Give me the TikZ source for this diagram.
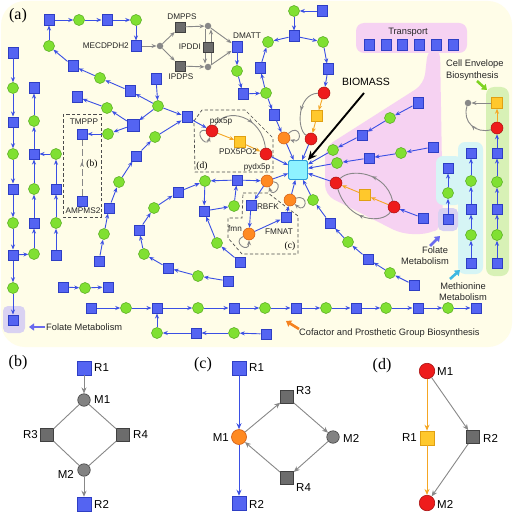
\documentclass[tikz,border=0pt]{standalone}
\usepackage{fontspec}
\setsansfont{Liberation Sans}
\newfontfamily\serifb{Liberation Serif}
\usetikzlibrary{arrows.meta,decorations.markings}
\definecolor{bluef}{HTML}{5464F2}
\definecolor{blued}{HTML}{2E3EC4}
\definecolor{arrb}{HTML}{3A4FE4}
\definecolor{greenf}{HTML}{80E032}
\definecolor{greend}{HTML}{52A81C}
\definecolor{redf}{HTML}{EE1C1C}
\definecolor{redd}{HTML}{A81010}
\definecolor{orangef}{HTML}{FF8A22}
\definecolor{oranged}{HTML}{D05A10}
\definecolor{yellowf}{HTML}{FFC82C}
\definecolor{yellowd}{HTML}{E0A012}
\definecolor{arro}{HTML}{F5A623}
\definecolor{grayf}{HTML}{6C6C6C}
\definecolor{grayd}{HTML}{404040}
\definecolor{grayl}{HTML}{888888}
\definecolor{cyanf}{HTML}{8EF2FF}
\definecolor{cyand}{HTML}{2C9ED8}
\definecolor{creamc}{HTML}{FFFDE8}
\definecolor{pinkc}{HTML}{F6D2F2}
\definecolor{lavc}{HTML}{D9D2F2}
\definecolor{lcyan}{HTML}{D6F5F5}
\definecolor{lgreen}{HTML}{D8F1B6}
\definecolor{ptrblue}{HTML}{6A6AEE}
\definecolor{ptrcyan}{HTML}{3EB8E2}
\definecolor{ptrgreen}{HTML}{7ED321}
\definecolor{ptrorange}{HTML}{F5821F}
\begin{document}
\begin{tikzpicture}[x=1pt,y=-1pt,
  sq/.style={rectangle,draw=blued,fill=bluef,line width=0.5pt,minimum size=10.5pt,inner sep=0pt},
  ci/.style={circle,draw=greend,fill=greenf,line width=0.5pt,minimum size=11pt,inner sep=0pt},
  rc/.style={circle,draw=redd,fill=redf,line width=0.5pt,minimum size=12pt,inner sep=0pt},
  oc/.style={circle,draw=oranged,fill=orangef,line width=0.5pt,minimum size=12pt,inner sep=0pt},
  ysq/.style={rectangle,draw=yellowd,fill=yellowf,line width=0.5pt,minimum size=11pt,inner sep=0pt},
  gsq/.style={rectangle,draw=grayd,fill=grayf,line width=0.5pt,minimum size=10pt,inner sep=0pt},
  gdot/.style={circle,fill=grayl,draw=none,minimum size=6.5pt,inner sep=0pt},
  biobox/.style={rectangle,rounded corners=1.5pt,draw=cyand,fill=cyanf,line width=0.8pt,minimum size=19pt,inner sep=0pt},
  ba/.style={draw=arrb,line width=0.9pt,-{Stealth[length=5pt,width=4pt]}},
  ga/.style={draw=grayl,line width=0.9pt,-{Stealth[length=5pt,width=4pt]}},
  gl/.style={draw=grayl,line width=0.9pt},
  oa/.style={draw=arro,line width=0.9pt,-{Stealth[length=5pt,width=4pt]}},
  gmid/.style={color=grayl,line width=0.9pt,postaction={decorate},
    decoration={markings,mark=at position #1 with {\arrow{Stealth[length=5pt,width=4pt]}}}},
  gmid/.default=0.55,
  lab/.style={font=\sffamily\fontsize{8.2}{9}\selectfont,inner sep=0pt,text=black!85},
  big/.style={font=\sffamily\fontsize{9.3}{11}\selectfont,inner sep=0pt,text=black!85},
  plab/.style={font=\sffamily\fontsize{11.5}{13}\selectfont,inner sep=0pt},
  pan/.style={font=\serifb\fontsize{16}{18}\selectfont,inner sep=0pt},
  dbox/.style={draw=black!70,line width=0.7pt,dash pattern=on 3.2pt off 2.2pt},
  ptr/.style={line width=2.6pt,-{Triangle[length=5pt,width=7pt]}},
  pbs/.style={rectangle,draw=blued,fill=bluef,line width=0.5pt,minimum size=14pt,inner sep=0pt},
  pgs/.style={rectangle,draw=grayd,fill=grayf,line width=0.6pt,minimum size=13pt,inner sep=0pt},
  pgc/.style={circle,draw=grayd,fill=grayf!85,line width=0.6pt,minimum size=12.5pt,inner sep=0pt},
  poc/.style={circle,draw=oranged,fill=orangef,line width=0.6pt,minimum size=15pt,inner sep=0pt},
  prc/.style={circle,draw=redd,fill=redf,line width=0.6pt,minimum size=15.5pt,inner sep=0pt},
  pys/.style={rectangle,draw=yellowd,fill=yellowf,line width=0.6pt,minimum size=14pt,inner sep=0pt},
  pa/.style={line width=0.9pt,-{Stealth[length=6pt,width=5pt]}}
]
\useasboundingbox (0,0) rectangle (513,516);
\fill[white] (0,0) rectangle (513,516);
% ---------- backgrounds ----------
\fill[creamc,rounded corners=24pt] (1,1) rectangle (512,347);
\fill[pinkc,rounded corners=8pt] (356,23) rectangle (467,53);
\fill[pinkc,rounded corners=10pt] (325,147) -- (424,84) -- (428,48) -- (440,48) -- (443,226) -- (430,234) -- (402,234) -- (325,195) -- cycle;
\fill[lavc,rounded corners=5pt] (3,306) rectangle (25,333);
\fill[lcyan,rounded corners=7pt] (458,142) rectangle (483,274);
\fill[lcyan,rounded corners=7pt] (436,156) rectangle (462,205);
\fill[lavc,rounded corners=5pt] (438,208) rectangle (458,231);
\fill[lgreen,rounded corners=8pt] (486,87) rectangle (509,276);
% ---------- dashed boxes ----------
\draw[dbox] (63,114) rectangle (101,217);
\draw[dbox] (194,121) -- (202,110) -- (245,110) -- (273,138) -- (273,172) -- (195,172) -- cycle;
\draw[dbox] (243,193) -- (268,193) -- (298,216) -- (298,254) -- (242,254) -- (228,238) -- (228,218) -- (242,218) -- cycle;
% ---------- nodes: top-left ----------
\node[sq] (a1) at (49,20) {};
\node[ci] (a2) at (79,20) {};
\node[sq] (a3) at (107,20) {};
\node[ci] (a4) at (136,20) {};
\node[sq] (a5) at (136,46) {};
\node[ci] (a6) at (49,46) {};
\node[sq] (a7) at (73,66) {};
\node[ci] (a8) at (100,78) {};
\node[sq] (a9) at (130,91) {};
\node[ci] (a10) at (158,106) {};
\node[sq] (a11) at (156,79) {};
\node[sq] (a12) at (187,117) {};
\node[sq,minimum size=12pt] (a13) at (133,125) {};
\node[ci] (a14) at (107,108) {};
\node[sq] (a15) at (77,97) {};
\node[ci] (a16) at (108,134) {};
\node[sq] (tmp) at (82,134) {};
\node[sq] (amp) at (82,201) {};
\node[sq] (b1) at (99,261) {};
\node[ci] (b2) at (104,234) {};
\node[sq] (b3) at (109,208) {};
\node[ci] (b4) at (119,182) {};
\node[sq] (b5) at (136,156) {};
\node[ci] (b6) at (155,137) {};
% left columns
\node[sq] (c1) at (13,53) {};
\node[ci] (c2) at (13,88) {};
\node[sq] (c3) at (13,122) {};
\node[ci] (c4) at (13,154) {};
\node[sq] (c5) at (13,189) {};
\node[ci] (c6) at (13,223) {};
\node[sq] (c7) at (13,255) {};
\node[ci] (c8) at (13,288) {};
\node[sq] (c9) at (13,320) {};
\node[ci] (d1) at (34,254) {};
\node[sq] (d2) at (34,223) {};
\node[ci] (d3) at (34,189) {};
\node[sq] (d4) at (34,154) {};
\node[ci] (d5) at (34,121) {};
\node[sq] (d6) at (34,88) {};
\node[sq] (e1) at (56,255) {};
\node[ci] (e2) at (56,223) {};
\node[sq] (e3) at (56,189) {};
\node[ci] (e4) at (56,154) {};
% bottom rows
\node[sq] (f1) at (63,287) {};
\node[ci] (f2) at (85,288) {};
\node[sq] (f3) at (108,287) {};
\node[sq] (g1) at (91,308) {};
\node[ci] (g2) at (126,308) {};
\node[sq] (g3) at (157,308) {};
\node[ci] (g4) at (198,308) {};
\node[sq] (g5) at (234,308) {};
\node[ci] (g6) at (265,308) {};
\node[sq] (g7) at (296,308) {};
\node[ci] (g8) at (326,308) {};
\node[sq] (g9) at (356,308) {};
\node[ci] (g10) at (386,308) {};
\node[sq] (g11) at (418,308) {};
\node[ci] (g12) at (448,308) {};
\node[sq] (g13) at (476,308) {};
\node[ci] (h1) at (157,333) {};
\node[sq] (h2) at (196,333) {};
\node[ci] (h3) at (234,333) {};
\node[sq] (h4) at (266,334) {};
% middle chain
\node[sq] (k1) at (228,281) {};
\node[ci] (k2) at (198,276) {};
\node[sq] (k3) at (168,268) {};
\node[ci] (k4) at (144,254) {};
\node[sq] (k5) at (139,230) {};
\node[ci] (k6) at (154,208) {};
\node[sq] (k7) at (178,192) {};
\node[ci] (k8) at (205,181) {};
\node[sq] (k9) at (204,211) {};
\node[sq] (k10) at (237,180) {};
\node[ci] (k11) at (234,206) {};
\node[ci] (k12) at (217,243) {};
\node[sq] (k13) at (240,262) {};
% biomass and around
\node[biobox] (bio) at (298,170) {};
\node[rc] (pdx) at (212,131) {};
\node[ysq] (pdxo) at (240,142) {};
\node[rc] (pydx) at (266,154) {};
\node[oc] (or1) at (267,181) {};
\node[sq] (rbfk) at (251,205) {};
\node[oc] (fmn) at (249,234) {};
\node[sq] (fmnat) at (286,217) {};
\node[oc] (or2) at (290,200) {};
% DMATT area
\node[gdot] (m1) at (160,46) {};
\node[gsq] (dmpps) at (180,27) {};
\node[gsq] (ipdps) at (180,66) {};
\node[gdot] (m2) at (208,26) {};
\node[gdot] (m3) at (208,67) {};
\node[sq] (dmatt) at (237,47) {};
\node[ci] (n1) at (237,71) {};
\node[sq] (n2) at (243,94) {};
\node[ci] (n3) at (266,93) {};
\node[sq] (n4) at (260,68) {};
\node[ci] (n5) at (268,42) {};
\node[sq] (n6) at (294,36) {};
\node[ci] (n7) at (323,42) {};
\node[sq] (n8) at (328,69) {};
\node[rc] (rd1) at (324,93) {};
\node[ysq] (ys1) at (317,116) {};
\node[rc] (rd2) at (311,139) {};
\node[sq] (n9) at (322,11) {};
\node[ci] (n10) at (294,11) {};
\node[sq] (n11) at (274,115) {};
\node[oc] (or3) at (284,138) {};
% pink region
\node[sq] (p1) at (418,103) {};
\node[ci] (p2) at (390,118) {};
\node[sq] (p3) at (362,135) {};
\node[ci] (p4) at (333,150) {};
\node[sq] (p5) at (433,147) {};
\node[ci] (p6) at (401,153) {};
\node[sq] (p7) at (369,158) {};
\node[ci] (p8) at (337,163) {};
\node[sq] (p9) at (423,218) {};
\node[rc] (rd3) at (394,207) {};
\node[ysq] (ys2) at (365,195) {};
\node[rc] (rd4) at (336,183) {};
\foreach \i [count=\j] in {369,386,402,419,436,453} \node[sq] (t\j) at (\i,45) {};
% lower right chain
\node[ci] (q1) at (313,200) {};
\node[sq] (q2) at (330,223) {};
\node[ci] (q3) at (348,242) {};
\node[sq] (q4) at (368,259) {};
\node[ci] (q5) at (390,273) {};
\node[sq] (q6) at (414,285) {};
% right columns
\node[sq] (fo1) at (448,219) {};
\node[ci] (fo2) at (448,193) {};
\node[sq] (fo3) at (448,168) {};
\node[sq] (me1) at (471,263) {};
\node[ci] (me2) at (471,235) {};
\node[sq] (me3) at (471,209) {};
\node[ci] (me4) at (471,181) {};
\node[sq] (me5) at (471,153) {};
\node[sq] (ce1) at (497,263) {};
\node[ci] (ce2) at (497,235) {};
\node[sq] (ce3) at (497,209) {};
\node[ci] (ce4) at (497,182) {};
\node[sq] (ce5) at (497,153) {};
\node[rc] (rd5) at (497,128) {};
\node[ysq] (ys3) at (497,103) {};
\node[gdot] (gd5) at (468,103) {};
% ---------- edges ----------
\foreach \u/\v in {a1/a2,a2/a3,a3/a4,a4/a5,a6/a1,a7/a6,a8/a7,a9/a8,a10/a9,a11/a10,a10/a12,a10/a13,a13/a14,a14/a15,a13/a16,a16/tmp,
  b1/b2,b2/b3,b3/b4,b4/b5,b5/b6,b6/a12,a12/pdx,
  c1/c2,c2/c3,c3/c4,c4/c5,c5/c6,c6/c7,c7/c8,c8/c9,c7/d1,d1/d2,d2/d3,d3/d4,d4/d5,d5/d6,e1/e2,e2/e3,e3/e4,e4/d4,
  f1/f2,f2/f3,g1/g2,g2/g3,g3/g4,g4/g5,g5/g6,g6/g7,g7/g8,g8/g9,g9/g10,g10/g11,g11/g12,g12/g13,h4/h3,h3/h2,h2/h1,h1/g3,
  k1/k2,k2/k3,k3/k4,k4/k5,k5/k6,k6/k7,k7/k8,k8/k9,k10/k8,k10/or1,k11/k10,k9/k11,k12/k9,k13/k12,
  or1/rbfk,rbfk/fmn,fmn/fmnat,fmnat/or2,
  pydx/bio,or1/bio,or2/bio,or3/bio,rd2/bio,p4/bio,p8/bio,rd4/bio,q1/bio,
  dmatt/n1,n1/n2,n2/n3,n3/n4,n4/n5,n6/n5,n6/n7,n7/n8,n8/rd1,n9/n10,n10/n6,n3/n11,n11/or3,
  p1/p2,p2/p3,p3/p4,p5/p6,p6/p7,p7/p8,p9/rd3,
  q6/q5,q5/q4,q4/q3,q3/q2,q2/q1,
  fo1/fo2,fo2/fo3,me1/me2,me2/me3,me3/me4,me4/me5,ce1/ce2,ce2/ce3,ce3/ce4,ce4/ce5,ce5/rd5}
  \draw[ba] (\u) -- (\v);
\foreach \u/\v in {pdx/pdxo,pdxo/pydx,rd1/ys1,ys1/rd2,rd3/ys2,ys2/rd4,rd5/ys3}
  \draw[oa] (\u) -- (\v);
\foreach \u/\v in {a5/m1,m1/dmpps,m1/ipdps,dmpps/m2,ipdps/m3,m2/dmatt,m3/dmatt,ys3/gd5}
  \draw[ga] (\u) -- (\v);
\draw[ga] ([xshift=-3pt]m2.south) -- ([xshift=-3pt]m3.north);
\draw[ga] ([xshift=3pt]m3.north) -- ([xshift=3pt]m2.south);
\node[gsq] (ipddi) at (208,47) {};
% gray arcs
\draw[gmid=0.6] (pdx) .. controls (226,106) and (262,116) .. (pydx);
\draw[gmid=0.5] (rd1) .. controls (298,94) and (296,128) .. (rd2);
\draw[gmid=0.5] (rd3) .. controls (386,172) and (350,168) .. (rd4);
\draw[gmid=0.5] (rd3) .. controls (382,224) and (348,222) .. (rd4);
\draw[gmid=0.5] (rd5) .. controls (476,134) and (462,122) .. (gd5);
% self loops
\draw[ga] (pdx) .. controls +(-20,-2) and +(-6,18) .. (pdx);
\draw[ga] (or3) .. controls +(16,-16) and +(20,6) .. (or3);
\draw[ga] (or1) .. controls +(18,2) and +(6,18) .. (or1);
\draw[ga] (or2) .. controls +(20,-6) and +(16,14) .. (or2);
\draw[ga] (fmn) .. controls +(-18,8) and +(0,20) .. (fmn);
% (b) inner dashed link
\draw[gmid=0.6,dash pattern=on 7pt off 3pt] (amp) -- (tmp);
% ---------- labels ----------
\node[pan] at (18,16) {(a)};
\node[lab,anchor=east] at (129,46) {MECDPDH2};
\node[lab] at (182,17) {DMPPS};
\node[lab] at (181,77) {IPDPS};
\node[lab,anchor=east] at (201,47) {IPDDI};
\node[lab] at (247,36) {DMATT};
\node[lab] at (84,122) {TMPPP};
\node[lab] at (83,211) {AMPMS2};
\node[font=\serifb\fontsize{9.5}{10}\selectfont,inner sep=0pt] at (92,164) {(b)};
\node[lab] at (221,121) {pdx5p};
\node[lab] at (238,152) {PDX5PO2};
\node[lab] at (257,167) {pydx5p};
\node[font=\serifb\fontsize{9.5}{10}\selectfont,inner sep=0pt] at (202,166) {(d)};
\node[lab] at (268,207) {RBFK};
\node[lab] at (235,229) {fmn};
\node[lab] at (279,232) {FMNAT};
\node[font=\serifb\fontsize{9.5}{10}\selectfont,inner sep=0pt] at (290,246) {(c)};
\node[big] at (408,32) {Transport};
\node[font=\sffamily\fontsize{10.5}{12}\selectfont,inner sep=0pt] (biolab) at (366,82) {BIOMASS};
\coordinate (bioptr) at (364,93);
\draw[line width=1.9pt,-{Stealth[length=9pt,width=8pt]}] (bioptr) -- (bio.north east);
\node[big,anchor=west] at (446,64) {Cell Envelope};
\node[big,anchor=west] at (446,76) {Biosynthesis};
\node[big] at (435,250) {Folate};
\node[big] at (425,261) {Metabolism};
\node[big] at (463,286) {Methionine};
\node[big] at (463,297) {Metabolism};
\node[big,anchor=west] (folab) at (46,327) {Folate Metabolism};
\node[big,anchor=west] (coflab) at (299,333) {Cofactor and Prosthetic Group Biosynthesis};
\coordinate (pf1s) at (45,327); \coordinate (pf1e) at (29,327);
\draw[ptr,ptrblue] (pf1s) -- (pf1e);
\coordinate (pf2s) at (430,246); \coordinate (pf2e) at (440,236);
\draw[ptr,ptrblue] (pf2s) -- (pf2e);
\coordinate (pm1s) at (450,279); \coordinate (pm1e) at (460,270);
\draw[ptr,ptrcyan] (pm1s) -- (pm1e);
\coordinate (pc1s) at (477,81); \coordinate (pc1e) at (487,90);
\draw[ptr,ptrgreen] (pc1s) -- (pc1e);
\coordinate (po1s) at (299,329); \coordinate (po1e) at (286,321);
\draw[ptr,ptrorange] (po1s) -- (po1e);
% ---------- panel (b) ----------
\node[pan] at (18,363) {(b)};
\node[pbs] (bR1) at (84,368) {};
\node[pgc] (bM1) at (84,400) {};
\node[pgs] (bR3) at (47,435) {};
\node[pgs] (bR4) at (123,435) {};
\node[pgc] (bM2) at (84,470) {};
\node[pbs] (bR2) at (84,504) {};
\draw[pa,grayl] (bR1) -- (bM1);
\draw[gl] (bM1) -- (bR3); \draw[gl] (bM1) -- (bR4);
\draw[gl] (bR3) -- (bM2); \draw[gl] (bR4) -- (bM2);
\draw[pa,grayl] (bM2) -- (bR2);
\node[plab,anchor=west] at (94,368) {R1};
\node[plab,anchor=west] at (94,400) {M1};
\node[plab,anchor=east] at (38,435) {R3};
\node[plab,anchor=west] at (133,435) {R4};
\node[plab,anchor=east] at (74,474) {M2};
\node[plab,anchor=west] at (94,504) {R2};
% ---------- panel (c) ----------
\node[pan] at (203,365) {(c)};
\node[pbs] (cR1) at (239,368) {};
\node[poc] (cM1) at (239,437) {};
\node[pbs] (cR2) at (239,503) {};
\node[pgs] (cR3) at (287,397) {};
\node[pgc] (cM2) at (333,437) {};
\node[pgs] (cR4) at (287,478) {};
\draw[pa,arrb] (cR1) -- (cM1);
\draw[pa,arrb] (cM1) -- (cR2);
\draw[pa,grayl] (cM1) -- (cR3);
\draw[pa,grayl] (cR3) -- (cM2);
\draw[pa,grayl] (cM2) -- (cR4);
\draw[pa,grayl] (cR4) -- (cM1);
\node[plab,anchor=west] at (249,368) {R1};
\node[plab,anchor=east] at (229,438) {M1};
\node[plab,anchor=west] at (249,504) {R2};
\node[plab,anchor=west] at (296,391) {R3};
\node[plab,anchor=west] at (343,438) {M2};
\node[plab,anchor=west] at (296,488) {R4};
% ---------- panel (d) ----------
\node[pan] at (382,366) {(d)};
\node[prc] (dM1) at (427,371) {};
\node[pys] (dR1) at (427,438) {};
\node[pgs] (dR2) at (473,437) {};
\node[prc] (dM2) at (427,503) {};
\draw[pa,arro] (dM1) -- (dR1);
\draw[pa,arro] (dR1) -- (dM2);
\draw[pa,grayl] (dM1) -- (dR2);
\draw[pa,grayl] (dR2) -- (dM2);
\node[plab,anchor=west] at (437,372) {M1};
\node[plab,anchor=east] at (417,438) {R1};
\node[plab,anchor=west] at (483,438) {R2};
\node[plab,anchor=west] at (437,504) {M2};
\end{tikzpicture}
\end{document}
